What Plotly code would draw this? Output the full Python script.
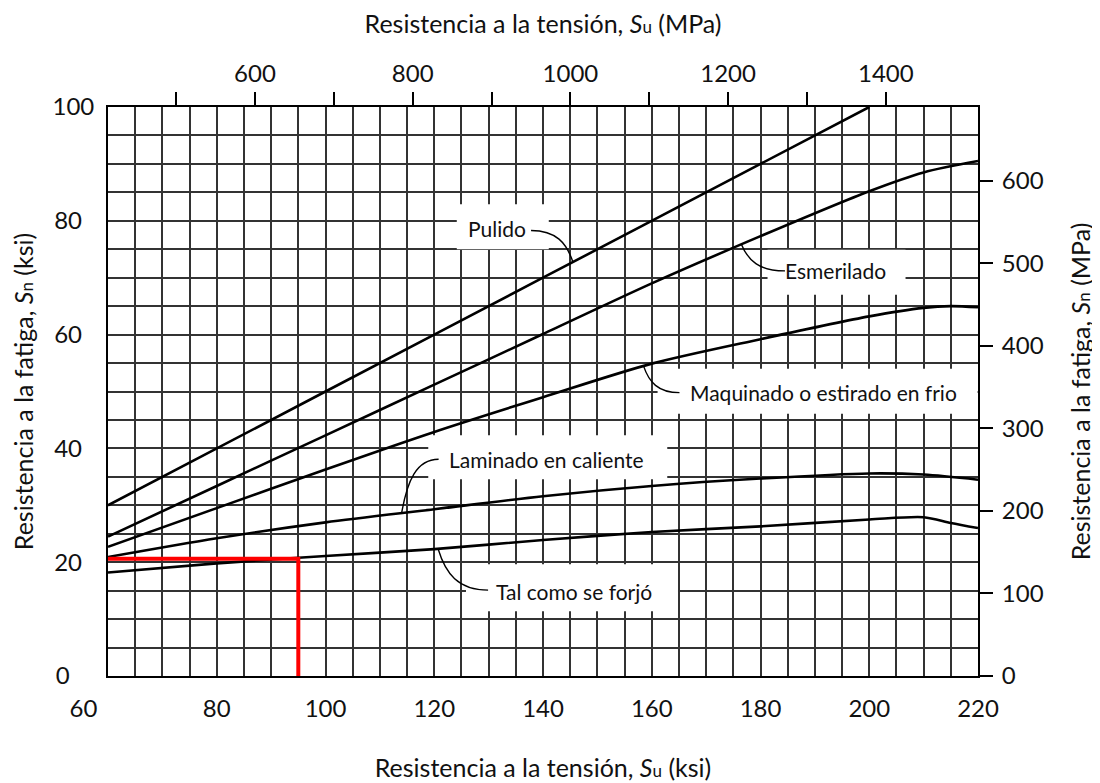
import plotly.graph_objects as go
import numpy as np

KSI_TO_MPA = 6.894757

# ---- curve data (ksi vs ksi) ----
pulido_x = [60, 100, 140, 180, 200]
pulido_y = [30, 50, 70, 90, 100]
esmerilado_x = [60, 80, 100, 120, 140, 160, 180, 200, 210, 220]
esmerilado_y = [24.5, 33.4, 42.3, 51.2, 60.1, 69.0, 77.3, 85.2, 88.5, 90.5]
maquinado_x = [60, 80, 100, 120, 140, 160, 180, 200, 210, 215, 220]
maquinado_y = [22.7, 29.5, 36.3, 42.9, 49.0, 54.9, 59.2, 63.2, 64.7, 65.0, 64.8]
laminado_x = [60, 80, 100, 120, 140, 160, 180, 200, 210, 220]
laminado_y = [20.9, 24.2, 27.0, 29.3, 31.6, 33.4, 34.7, 35.6, 35.4, 34.5]
forjado_x = [60, 80, 100, 120, 140, 160, 180, 200, 210, 215, 220]
forjado_y = [18.2, 19.8, 21.1, 22.3, 23.9, 25.3, 26.3, 27.5, 27.9, 26.9, 26.0]

# red example line
red_x = [60, 95, 95]
red_y = [20.6, 20.6, 0]

# ---- ticks ----
bottom_ticks = [60, 80, 100, 120, 140, 160, 180, 200, 220]
bottom_labels = ["60", "80", "100", "120", "140", "160", "180", "200", "220"]
left_ticks = [0, 20, 40, 60, 80, 100]
left_labels = ["0", "20", "40", "60", "80", "100"]
top_ticks_mpa = [500, 600, 700, 800, 900, 1000, 1100, 1200, 1300, 1400]
top_labels = ["", "600", "", "800", "", "1000", "", "1200", "", "1400"]
right_ticks_mpa = [0, 100, 200, 300, 400, 500, 600]

# ---- curve labels ----
label_texts = ["Pulido", "Esmerilado", "Maquinado o estirado en frio",
               "Laminado en caliente", "Tal como se forjó"]
label_x = [131.5, 193.8, 191.6, 140.6, 145.7]
label_y = [78.7, 71.2, 49.8, 38.1, 14.9]
leader_start_x = [137.8, 184.5, 165.1, 120.8, 129.9]
leader_start_y = [78.3, 71.2, 49.8, 38.1, 15.1]
leader_curve_x = [145.5, 176.5, 158.5, 114.0, 120.7]
leader_curve = ["pulido", "esmerilado", "maquinado", "laminado", "forjado"]
# white box extents in pixels around text anchor (left, right, down, up)
box_px = [(-40, 52, -21, 24), (-68, 70, -24, 21), (-166, 154, -21, 24),
          (-118, 121, -20, 24), (-108, 104, -20, 27)]

curves = {
    "pulido": (pulido_x, pulido_y),
    "esmerilado": (esmerilado_x, esmerilado_y),
    "maquinado": (maquinado_x, maquinado_y),
    "laminado": (laminado_x, laminado_y),
    "forjado": (forjado_x, forjado_y),
}

FONT = "Lato"
GRID = "#333333"

fig = go.Figure()

for name, (cx, cy) in curves.items():
    fig.add_trace(go.Scatter(x=cx, y=cy, mode="lines", name=name,
                             line=dict(color="black", width=2.6, shape="spline", smoothing=0.8),
                             hoverinfo="skip", showlegend=False))

fig.add_trace(go.Scatter(x=red_x, y=red_y, mode="lines",
                         line=dict(color="#ff0000", width=4),
                         hoverinfo="skip", showlegend=False))

# invisible traces to activate secondary axes
fig.add_trace(go.Scatter(x=[60 * KSI_TO_MPA, 220 * KSI_TO_MPA], y=[0, 0], xaxis="x2", yaxis="y",
                         mode="markers", marker=dict(opacity=0), hoverinfo="skip", showlegend=False))
fig.add_trace(go.Scatter(x=[60, 220], y=[0, 100 * KSI_TO_MPA], xaxis="x", yaxis="y2",
                         mode="markers", marker=dict(opacity=0), hoverinfo="skip", showlegend=False))

shapes = []
annotations = []
for i, txt in enumerate(label_texts):
    l, r, d, u = box_px[i]
    shapes.append(dict(type="rect", xref="x", yref="y", xsizemode="pixel", ysizemode="pixel",
                       xanchor=label_x[i], yanchor=label_y[i], x0=l, x1=r, y0=d, y1=u,
                       fillcolor="white", line=dict(width=0), layer="between"))
    cx, cy = curves[leader_curve[i]]
    p3x = leader_curve_x[i]
    p3y = float(np.interp(p3x, cx, cy))
    p0x, p0y = leader_start_x[i], leader_start_y[i]
    dx, dy = p3x - p0x, p3y - p0y
    p1x, p1y = p0x + 0.6 * dx, p0y
    p2x, p2y = p3x - 0.15 * dx, p3y - 0.6 * dy
    shapes.append(dict(type="path", xref="x", yref="y",
                       path=f"M {p0x},{p0y} C {p1x},{p1y} {p2x},{p2y} {p3x},{p3y}",
                       line=dict(color="black", width=1.4), layer="above"))
    annotations.append(dict(x=label_x[i], y=label_y[i], xref="x", yref="y", text=txt,
                            showarrow=False, font=dict(family=FONT, size=21, color="#111")))

# left labels appear centred in a column in the reference: pad shorter ones
left_text = [s + "\u00a0" * (3 - len(s)) * 2 for s in left_labels]
# the first bottom label sits left of its grid line in the reference
bottom_text = [bottom_labels[0] + "\u00a0" * 8] + bottom_labels[1:]

sub = "<span style='font-size:17px'>{}</span>"
title_font = dict(family=FONT, size=25, color="#111")
tick_font = dict(family=FONT, size=24, color="#111")

# page body has an 8px margin: figure is sized so the plot area lands at x 108-978, y 107-676
fig.update_layout(
    width=1092, height=775,
    margin=dict(l=100, r=122, t=99, b=107),
    paper_bgcolor="white", plot_bgcolor="white",
    shapes=shapes, annotations=annotations,
    xaxis=dict(range=[60, 220], tickvals=bottom_ticks, ticktext=bottom_text, ticks="",
               ticklabelstandoff=10,
               showgrid=True, gridcolor=GRID, gridwidth=1.7, automargin=False,
               minor=dict(tick0=60, dtick=5, showgrid=True, gridcolor=GRID, gridwidth=1.7),
               showline=True, linecolor="black", linewidth=1.8, mirror=True,
               zeroline=False, tickfont=tick_font,
               title=dict(text="Resistencia a la tensión, <i>S</i>" + sub.format("u") + " (ksi)",
                          font=title_font, standoff=39)),
    xaxis2=dict(range=[60 * KSI_TO_MPA, 220 * KSI_TO_MPA], overlaying="x", side="top",
                tickvals=top_ticks_mpa, ticktext=top_labels, ticks="outside", ticklen=14,
                tickwidth=2, tickcolor="black", showgrid=False, zeroline=False, showline=False,
                tickfont=tick_font, automargin=False,
                title=dict(text="Resistencia a la tensión, <i>S</i>" + sub.format("u") + " (MPa)",
                           font=title_font, standoff=26)),
    yaxis=dict(range=[0, 100], tickvals=left_ticks, ticktext=left_text, ticks="",
               ticklabelstandoff=7,
               showgrid=True, gridcolor=GRID, gridwidth=1.7, automargin=False,
               minor=dict(tick0=0, dtick=5, showgrid=True, gridcolor=GRID, gridwidth=1.7),
               showline=True, linecolor="black", linewidth=1.8, mirror=True,
               zeroline=False, tickfont=tick_font,
               title=dict(text="Resistencia a la fatiga, <i>S</i>" + sub.format("n") + " (ksi)",
                          font=title_font, standoff=19)),
    yaxis2=dict(range=[0, 100 * KSI_TO_MPA], overlaying="y", side="right",
                tickvals=right_ticks_mpa, ticks="outside", ticklen=14, tickwidth=2,
                tickcolor="black", showgrid=False, zeroline=False, showline=False,
                tickfont=tick_font, automargin=False, ticklabelstandoff=4,
                title=dict(text="Resistencia a la fatiga, <i>S</i>" + sub.format("n") + " (MPa)",
                           font=title_font, standoff=29)),
)

fig.write_html("out.html")
